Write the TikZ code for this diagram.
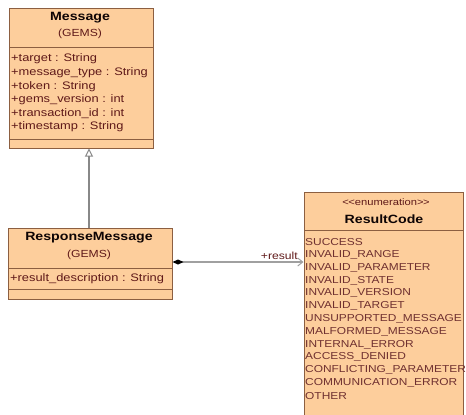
\documentclass[tikz,border=0pt]{standalone}
\usepackage{fontspec}
\newfontfamily\uml[FakeStretch=1.18]{Liberation Sans}
\usetikzlibrary{arrows.meta}
\definecolor{boxfill}{RGB}{253,206,156}
\definecolor{boxline}{RGB}{140,95,65}
\definecolor{txt}{RGB}{95,25,25}
\definecolor{conn}{RGB}{160,160,160}
\tikzset{
  umlbox/.style={draw=boxline, fill=boxfill, line width=0.9pt, rectangle, inner sep=0pt, anchor=north west},
  sepline/.style={draw=boxline, line width=0.9pt},
  title/.style={inner sep=0pt, text=black!85!txt, font=\uml\bfseries\fontsize{12}{14}\selectfont},
  sub/.style={inner sep=0pt, text=txt, font=\uml\fontsize{10.3}{12}\selectfont},
  attr/.style={inner sep=0pt, anchor=west, text=txt, font=\uml\fontsize{10.9}{12}\selectfont},
  enumitem/.style={inner sep=0pt, anchor=west, text=txt!90!white, font=\uml\fontsize{10.1}{12}\selectfont},
  genline/.style={draw=conn!85!black, line width=1.4pt, -{Triangle[open, width=8pt, length=8pt, line width=1pt]}},
  assocline/.style={draw=conn, line width=2pt, {Diamond[width=5pt, length=11pt, black]}-{Straight Barb[length=5pt, width=8pt, line width=1pt]}},
}
\begin{document}
\begin{tikzpicture}[x=1pt, y=-1pt]
\useasboundingbox (0,0) rectangle (466,415);
% Message
\node[umlbox, minimum width=144pt, minimum height=140pt] (msg) at (9,8) {};
\draw[sepline] (9,47) -- (153,47);
\draw[sepline] (9,139) -- (153,139);
\node[title] (msgt) at (80,18) {Message};
\node[sub] (msgg) at (80,34) {(GEMS)};
\node[attr] (a1) at (11,59) {+target : String};
\node[attr] (a2) at (11,72.6) {+message\_type : String};
\node[attr] (a3) at (11,86.2) {+token : String};
\node[attr] (a4) at (11,99.8) {+gems\_version : int};
\node[attr] (a5) at (11,113.4) {+transaction\_id : int};
\node[attr] (a6) at (11,127) {+timestamp : String};
% ResponseMessage
\node[umlbox, minimum width=164pt, minimum height=71pt] (resp) at (8,228) {};
\draw[sepline] (8,268) -- (172,268);
\draw[sepline] (8,289) -- (172,289);
\node[title] (respt) at (89,238) {ResponseMessage};
\node[sub] (respg) at (89,255) {(GEMS)};
\node[attr] (r1) at (10,278.5) {+result\_description : String};
% ResultCode
\node[umlbox, minimum width=159pt, minimum height=240pt] (rc) at (304,192) {};
\draw[sepline] (304,230) -- (463,230);
\node[sub] (rcs) at (386,202.5) {\fontsize{9.5}{11}\selectfont<\kern-0.5pt<enumeration>\kern-0.5pt>};
\node[title] (rct) at (384,219) {ResultCode};
\foreach \t [count=\i from 0] in {SUCCESS,INVALID\_RANGE,INVALID\_PARAMETER,INVALID\_STATE,INVALID\_VERSION,INVALID\_TARGET,UNSUPPORTED\_MESSAGE,MALFORMED\_MESSAGE,INTERNAL\_ERROR,ACCESS\_DENIED,CONFLICTING\_PARAMETER,COMMUNICATION\_ERROR,OTHER}
  \node[enumitem] (e\i) at (305,{242+12.83*\i}) {\t};
% connectors
\coordinate (gtop) at (89,148.5);
\coordinate (gbot) at (89,228);
\draw[genline] (gbot) -- (gtop);
\coordinate (as1) at (172.5,262);
\coordinate (as2) at (303.5,262);
\draw[assocline] (as1) -- (as2);
\node[sub, anchor=south east] (lbl) at (298,260) {+result};
\end{tikzpicture}
\end{document}
